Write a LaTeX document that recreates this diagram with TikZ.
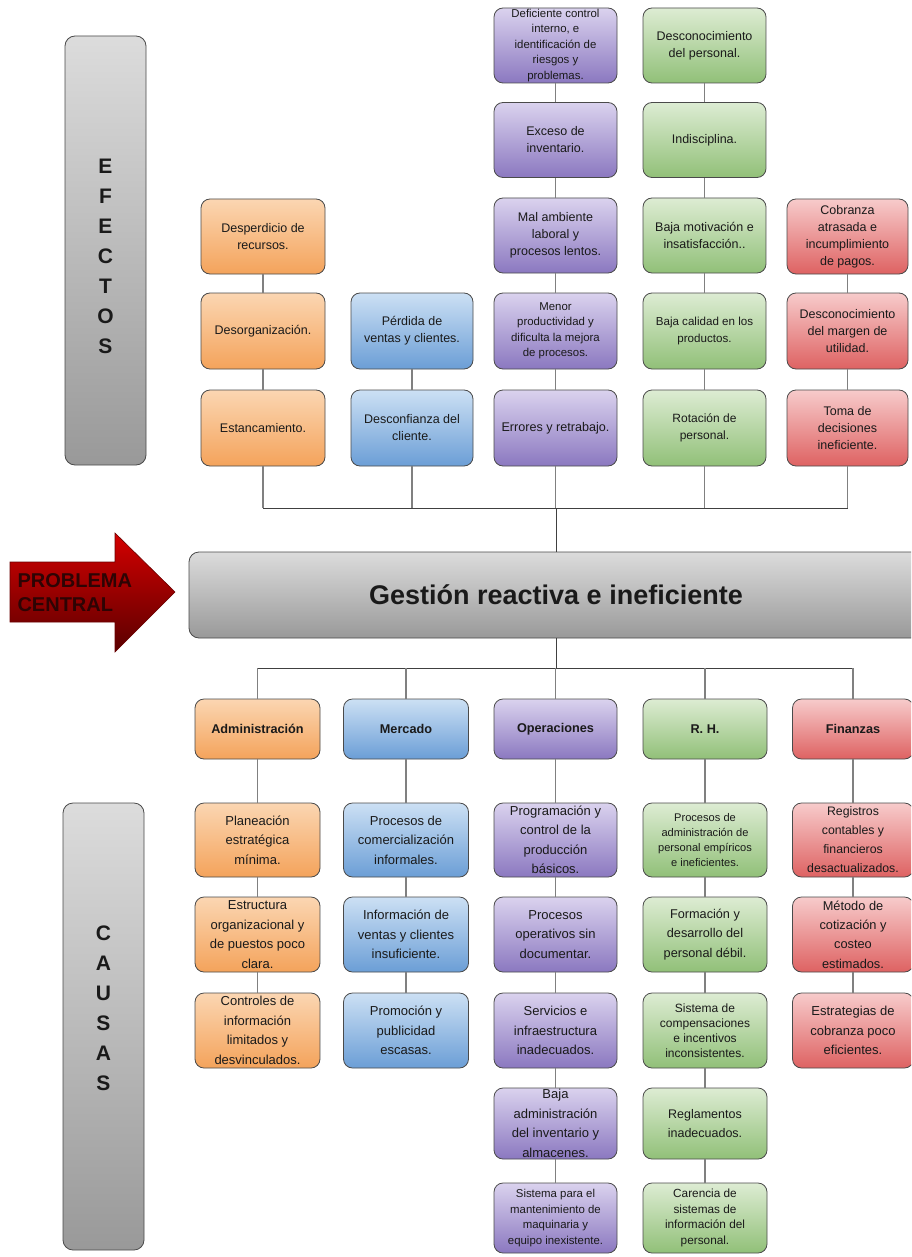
\documentclass[tikz,border=0pt]{standalone}
\usepackage{fontspec}
\setmainfont{Liberation Sans}
\definecolor{edge}{HTML}{4A4A4A}
\definecolor{txt}{HTML}{1A1A1A}
\definecolor{orT}{HTML}{FBD6B2}
\definecolor{orB}{HTML}{F4A35B}
\definecolor{blT}{HTML}{CCE0F4}
\definecolor{blB}{HTML}{6B9ED6}
\definecolor{puT}{HTML}{DAD2EE}
\definecolor{puB}{HTML}{8B78C0}
\definecolor{grT}{HTML}{DDECD3}
\definecolor{grB}{HTML}{91C078}
\definecolor{reT}{HTML}{F7CBCB}
\definecolor{reB}{HTML}{DE6262}
\definecolor{gyT}{HTML}{DCDCDC}
\definecolor{gyB}{HTML}{999999}
\definecolor{arT}{HTML}{D40000}
\definecolor{arB}{HTML}{5A0000}
\definecolor{arE}{HTML}{6A0000}
\definecolor{link}{HTML}{808080}
\definecolor{bus}{HTML}{404040}
\tikzset{
  cell/.style={draw=edge, line width=0.8pt, rounded corners=9pt, align=center,
    minimum width=123pt, minimum height=75pt, inner sep=1pt, text=txt},
  efx/.style={cell, font=\fontsize{12.5}{17}\selectfont},
  csx/.style={cell, font=\fontsize{13}{19.5}\selectfont},
  sml/.style={font=\fontsize{11.4}{15.5}\selectfont},
  catx/.style={cell, minimum height=60pt, font=\bfseries\fontsize{12.7}{15}\selectfont},
  orgc/.style={top color=orT, bottom color=orB},
  bluc/.style={top color=blT, bottom color=blB},
  purc/.style={top color=puT, bottom color=puB},
  grec/.style={top color=grT, bottom color=grB},
  redc/.style={top color=reT, bottom color=reB},
  sidebar/.style={draw=edge, line width=0.8pt, rounded corners=10pt, top color=gyT, bottom color=gyB,
    minimum width=81pt},
  letters/.style={align=center, text=txt, font=\bfseries\fontsize{21}{30}\selectfont},
  lnk/.style={draw=link, line width=1.1pt},
  buslnk/.style={draw=bus, line width=1pt},
}
\begin{document}
\begin{tikzpicture}[x=1pt,y=-1pt]
\useasboundingbox (0,0) rectangle (911,1257);
\clip (0,0) rectangle (911,1257);
\fill[white] (0,0) rectangle (911,1257);

% side bars
\node[sidebar, minimum height=429pt] (efbar) at (105.5,250.5) {};
\node[letters] (eflab) at (105.5,256) {E\\F\\E\\C\\T\\O\\S};
\node[sidebar, minimum height=447pt] (cabar) at (103.5,1026.5) {};
\node[letters] (calab) at (103.5,1008) {C\\A\\U\\S\\A\\S};

% arrow
\shade[top color=arT, bottom color=arB, draw=arE, line width=0.6pt]
  (10,562) -- (115,562) -- (115,533) -- (175,592) -- (115,652) -- (115,622) -- (10,622) -- cycle;
\node[anchor=west, align=left, text={rgb,255:red,45;green,4;blue,4},
  font=\bfseries\fontsize{20}{24}\selectfont] (pc) at (14,593) {PROBLEMA\\CENTRAL};

% central problem
\node[draw=edge, line width=0.8pt, rounded corners=10pt, top color=gyT, bottom color=gyB,
  minimum width=734pt, minimum height=86pt, text=txt,
  font=\bfseries\fontsize{27}{30}\selectfont] (core) at (556,595) {Gesti\'on reactiva e ineficiente};

% ---------------- effects ----------------
\node[efx, orgc, minimum width=124pt] (eo1) at (263,236.5) {Desperdicio de\\recursos.};
\node[efx, orgc, minimum width=124pt, minimum height=76pt] (eo2) at (263,331) {Desorganizaci\'on.};
\node[efx, orgc, minimum width=124pt, minimum height=76pt] (eo3) at (263,428) {Estancamiento.};

\node[efx, bluc, minimum width=122pt, minimum height=76pt] (eb1) at (412,331) {P\'erdida de\\ventas y clientes.};
\node[efx, bluc, minimum width=122pt, minimum height=76pt] (eb2) at (412,428) {Desconfianza del\\cliente.};

\node[efx, purc, sml] (ep1) at (555.5,45.5) {Deficiente control\\interno, e\\identificaci\'on de\\riesgos y\\problemas.};
\node[efx, purc] (ep2) at (555.5,140) {Exceso de\\inventario.};
\node[efx, purc] (ep3) at (555.5,235.5) {Mal ambiente\\laboral y\\procesos lentos.};
\node[efx, purc, sml, minimum height=76pt] (ep4) at (555.5,331) {Menor\\productividad y\\dificulta la mejora\\de procesos.};
\node[efx, purc, minimum height=76pt, font=\fontsize{12.6}{17}\selectfont] (ep5) at (555.5,428) {Errores y retrabajo.};

\node[efx, grec] (eg1) at (704.5,45.5) {Desconocimiento\\del personal.};
\node[efx, grec] (eg2) at (704.5,140) {Indisciplina.};
\node[efx, grec] (eg3) at (704.5,235.5) {Baja motivaci\'on e\\insatisfacci\'on..};
\node[efx, grec, minimum height=76pt, font=\fontsize{11.6}{17}\selectfont] (eg4) at (704.5,331) {Baja calidad en los\\productos.};
\node[efx, grec, minimum height=76pt, font=\fontsize{12}{17}\selectfont] (eg5) at (704.5,428) {Rotaci\'on de\\personal.};

\node[efx, redc, minimum width=121pt] (er1) at (847.5,236.5) {Cobranza\\atrasada e\\incumplimiento\\de pagos.};
\node[efx, redc, minimum width=121pt, minimum height=76pt] (er2) at (847.5,331) {Desconocimiento\\del margen de\\utilidad.};
\node[efx, redc, minimum width=121pt, minimum height=76pt] (er3) at (847.5,428) {Toma de\\decisiones\\ineficiente.};

% effect links
\coordinate (hE) at (556,508);
\draw[lnk] (eo1) -- (eo2);
\draw[lnk] (eo2) -- (eo3);
\draw[lnk] (eb1) -- (eb2);
\draw[lnk] (ep1) -- (ep2);
\draw[lnk] (ep2) -- (ep3);
\draw[lnk] (ep3) -- (ep4);
\draw[lnk] (ep4) -- (ep5);
\draw[lnk] (eg1) -- (eg2);
\draw[lnk] (eg2) -- (eg3);
\draw[lnk] (eg3) -- (eg4);
\draw[lnk] (eg4) -- (eg5);
\draw[lnk] (er1) -- (er2);
\draw[lnk] (er2) -- (er3);
\draw[lnk] (eo3.south) -- (eo3.south |- hE);
\draw[lnk] (eb2.south) -- (eb2.south |- hE);
\draw[lnk] (ep5.south) -- (ep5.south |- hE);
\draw[lnk] (eg5.south) -- (eg5.south |- hE);
\draw[lnk] (er3.south) -- (er3.south |- hE);
\draw[buslnk] (eo3.south |- hE) -- (er3.south |- hE);
\draw[buslnk] (hE) -- (core.north -| hE);

% ---------------- causes ----------------
\node[catx, orgc, minimum width=125pt] (ca) at (257.5,729) {Administraci\'on};
\node[catx, bluc, minimum width=125pt] (cm) at (406,729) {Mercado};
\node[catx, purc] (co) at (555.5,729) {Operaciones};
\node[catx, grec, minimum width=124pt] (cr) at (705,729) {R. H.};
\node[catx, redc, minimum width=121pt] (cf) at (853,729) {Finanzas};

\coordinate (hC) at (556,668);
\draw[buslnk] (core.south -| hC) -- (hC);
\draw[buslnk] (ca.north |- hC) -- (cf.north |- hC);
\draw[lnk] (ca.north |- hC) -- (ca.north);
\draw[lnk] (cm.north |- hC) -- (cm.north);
\draw[lnk] (co.north |- hC) -- (co.north);
\draw[lnk] (cr.north |- hC) -- (cr.north);
\draw[lnk] (cf.north |- hC) -- (cf.north);

\node[csx, orgc, minimum width=125pt, minimum height=74pt] (a1) at (257.5,840) {Planeaci\'on\\estrat\'egica\\m\'inima.};
\node[csx, orgc, minimum width=125pt] (a2) at (257.5,934.5) {Estructura\\organizacional y\\de puestos poco\\clara.};
\node[csx, orgc, minimum width=125pt] (a3) at (257.5,1030.5) {Controles de\\informaci\'on\\limitados y\\desvinculados.};

\node[csx, bluc, minimum width=125pt, minimum height=74pt] (m1) at (406,840) {Procesos de\\comercializaci\'on\\informales.};
\node[csx, bluc, minimum width=125pt] (m2) at (406,934.5) {Informaci\'on de\\ventas y clientes\\insuficiente.};
\node[csx, bluc, minimum width=125pt] (m3) at (406,1030.5) {Promoci\'on y\\publicidad\\escasas.};

\node[csx, purc, minimum height=74pt] (o1) at (555.5,840) {Programaci\'on y\\control de la\\producci\'on\\b\'asicos.};
\node[csx, purc] (o2) at (555.5,934.5) {Procesos\\operativos sin\\documentar.};
\node[csx, purc] (o3) at (555.5,1030.5) {Servicios e\\infraestructura\\inadecuados.};
\node[csx, purc, minimum height=71pt] (o4) at (555.5,1123.5) {Baja\\administraci\'on\\del inventario y\\almacenes.};
\node[csx, purc, minimum height=70pt, font=\fontsize{11.4}{15.7}\selectfont] (o5) at (555.5,1218) {Sistema para el\\mantenimiento de\\maquinaria y\\equipo inexistente.};

\node[csx, grec, minimum width=124pt, minimum height=74pt, font=\fontsize{11.1}{15}\selectfont] (r1) at (705,840) {Procesos de\\administraci\'on de\\personal emp\'iricos\\e ineficientes.};
\node[csx, grec, minimum width=124pt, font=\fontsize{12.7}{19.5}\selectfont] (r2) at (705,934.5) {Formaci\'on y\\desarrollo del\\personal d\'ebil.};
\node[csx, grec, minimum width=124pt, font=\fontsize{12}{15}\selectfont] (r3) at (705,1030.5) {Sistema de\\compensaciones\\e incentivos\\inconsistentes.};
\node[csx, grec, minimum width=124pt, minimum height=71pt, font=\fontsize{12.5}{19}\selectfont] (r4) at (705,1123.5) {Reglamentos\\inadecuados.};
\node[csx, grec, minimum width=124pt, minimum height=70pt, font=\fontsize{11.8}{15.7}\selectfont] (r5) at (705,1218) {Carencia de\\sistemas de\\informaci\'on del\\personal.};

\node[csx, redc, minimum width=121pt, minimum height=74pt, font=\fontsize{12.3}{19}\selectfont] (f1) at (853,840) {Registros\\contables y\\financieros\\desactualizados.};
\node[csx, redc, minimum width=121pt, font=\fontsize{12.8}{19.3}\selectfont] (f2) at (853,934.5) {M\'etodo de\\cotizaci\'on y\\costeo\\estimados.};
\node[csx, redc, minimum width=121pt] (f3) at (853,1030.5) {Estrategias de\\cobranza poco\\eficientes.};

\draw[lnk] (ca) -- (a1);
\draw[lnk] (a1) -- (a2);
\draw[lnk] (a2) -- (a3);
\draw[lnk] (cm) -- (m1);
\draw[lnk] (m1) -- (m2);
\draw[lnk] (m2) -- (m3);
\draw[lnk] (co) -- (o1);
\draw[lnk] (o1) -- (o2);
\draw[lnk] (o2) -- (o3);
\draw[lnk] (o3) -- (o4);
\draw[lnk] (o4) -- (o5);
\draw[lnk] (cr) -- (r1);
\draw[lnk] (r1) -- (r2);
\draw[lnk] (r2) -- (r3);
\draw[lnk] (r3) -- (r4);
\draw[lnk] (r4) -- (r5);
\draw[lnk] (cf) -- (f1);
\draw[lnk] (f1) -- (f2);
\draw[lnk] (f2) -- (f3);
\end{tikzpicture}
\end{document}
